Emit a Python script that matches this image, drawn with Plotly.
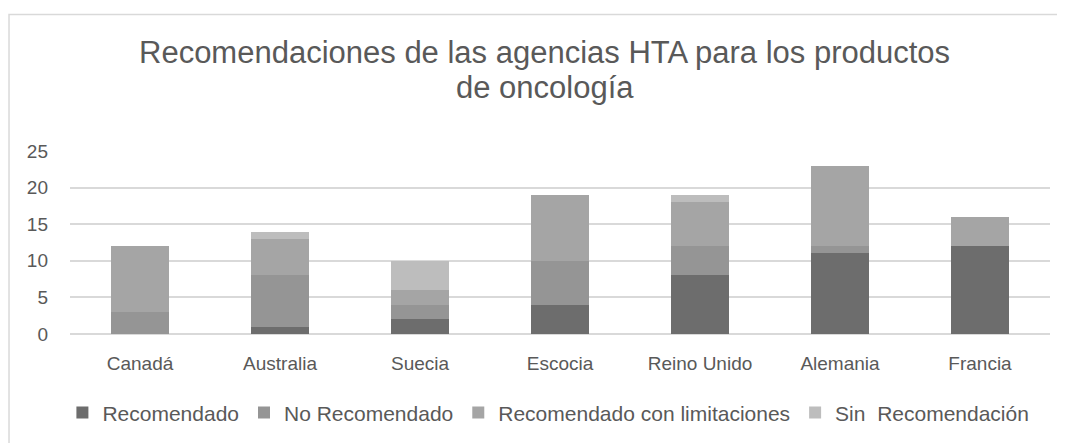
import plotly.graph_objects as go

# ---- data ----
countries = ["Canadá", "Australia", "Suecia", "Escocia", "Reino Unido", "Alemania", "Francia"]
recomendado = [0, 1, 2, 4, 8, 11, 12]
no_recomendado = [3, 7, 2, 6, 4, 1, 0]
recomendado_limitaciones = [9, 5, 2, 9, 6, 11, 4]
sin_recomendacion = [0, 1, 4, 0, 1, 0, 0]
y_ticks = [0, 5, 10, 15, 20, 25]

series_names = ["Recomendado", "No Recomendado", "Recomendado con limitaciones", "Sin  Recomendación"]
series_values = [recomendado, no_recomendado, recomendado_limitaciones, sin_recomendacion]
series_colors = ["#6d6d6d", "#959595", "#a5a5a5", "#bdbdbd"]

# ---- layout geometry (pixels) ----
OFF = 8  # page body margin
W, H = 1057, 435
PLOT_L, PLOT_R, PLOT_T, PLOT_B = 69.5, 1049.7, 150.7, 334  # screen px
ML = PLOT_L - OFF
MT = PLOT_T - OFF
MR = W - (PLOT_R - OFF)
MB = H - (PLOT_B - OFF)
PW = W - ML - MR
PH = H - MT - MB


def px_x(x):
    return (x - OFF - ML) / PW


def px_y(y):
    return (H - MB - (y - OFF)) / PH


TEXT = "#595959"
FONT = "Arial, Liberation Sans, sans-serif"

fig = go.Figure()
for name, vals, col in zip(series_names, series_values, series_colors):
    fig.add_trace(go.Bar(x=countries, y=vals, name=name, marker=dict(color=col, line=dict(width=0))))

fig.update_layout(
    width=W, height=H,
    margin=dict(l=ML, r=MR, t=MT, b=MB, pad=0, autoexpand=False),
    paper_bgcolor="white", plot_bgcolor="white",
    barmode="stack", bargap=0.59,
    font=dict(family=FONT, color=TEXT),
    showlegend=True,
    legend=dict(orientation="h", x=px_x(548), xanchor="center", y=px_y(413), yanchor="middle",
                traceorder="normal", font=dict(size=21, color=TEXT, family=FONT),
                itemwidth=30, bgcolor="rgba(0,0,0,0)"),
    xaxis=dict(showgrid=False, showline=False, zeroline=False, ticks="",
               tickfont=dict(size=19, color=TEXT, family=FONT), ticklabelstandoff=16),
    yaxis=dict(range=[0, 25], tickvals=y_ticks, showgrid=True, gridcolor="#d9d9d9", gridwidth=1.5,
               zeroline=True, zerolinecolor="#d9d9d9", zerolinewidth=1.5, showline=False, ticks="",
               tickfont=dict(size=19, color=TEXT, family=FONT), ticklabelstandoff=21),
    shapes=[dict(type="rect", xref="paper", yref="paper",
                 x0=px_x(8.5), x1=px_x(1090), y0=px_y(470), y1=px_y(14),
                 line=dict(color="#d9d9d9", width=1.5), fillcolor="rgba(0,0,0,0)", layer="below")],
    annotations=[
        dict(text="Recomendaciones de las agencias HTA para los productos", xref="paper", yref="paper",
             x=px_x(544.5), y=px_y(52), xanchor="center", yanchor="middle", showarrow=False,
             font=dict(size=31, color=TEXT, family=FONT)),
        dict(text="de oncología", xref="paper", yref="paper",
             x=px_x(544.5), y=px_y(87.5), xanchor="center", yanchor="middle", showarrow=False,
             font=dict(size=31, color=TEXT, family=FONT)),
    ],
)

fig.write_html("out.html")
